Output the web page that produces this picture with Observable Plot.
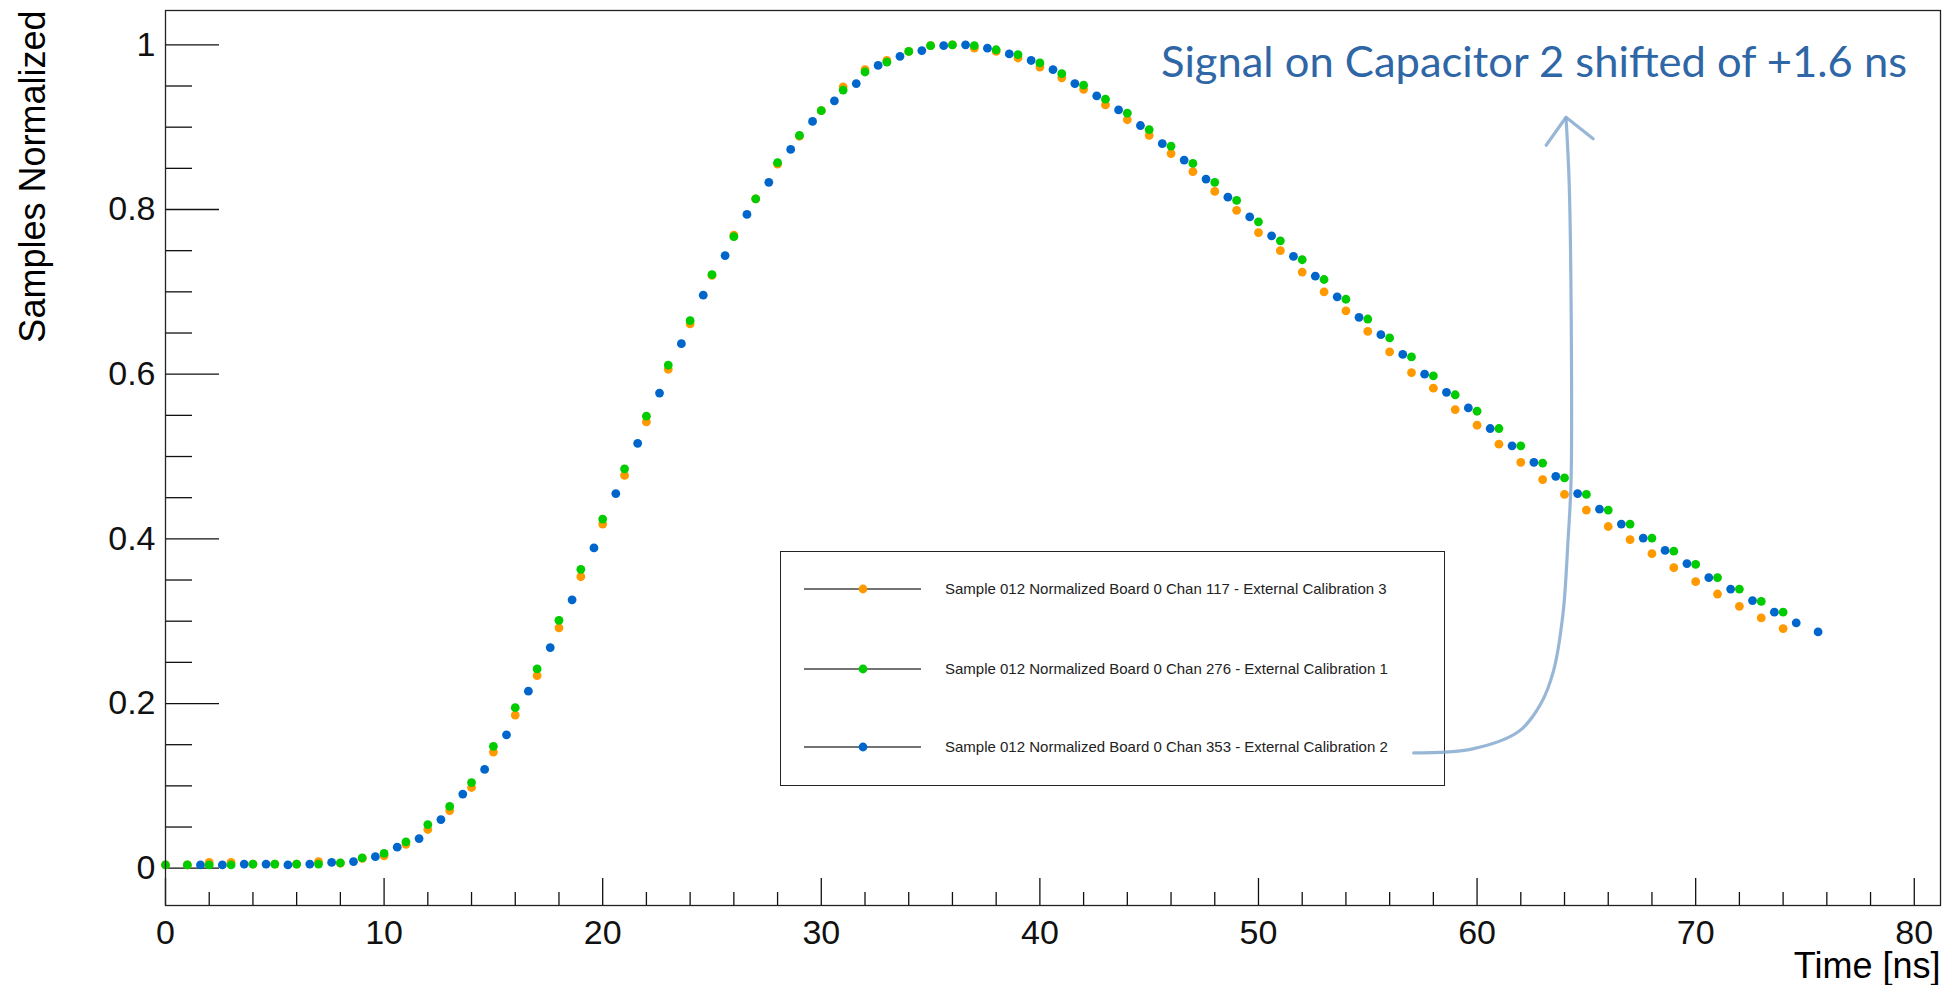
<!DOCTYPE html>
<html>
<head>
<meta charset="utf-8">
<script src="https://cdn.jsdelivr.net/npm/d3@7"></script>
<script src="https://cdn.jsdelivr.net/npm/@observablehq/plot@0.6"></script>
<style>
  html, body { margin: 0; padding: 0; background: #fff; }
  #wrap { position: relative; width: 1956px; height: 985px; }
  #legend { position: absolute; left: 780px; top: 551px; width: 665px; height: 235px; box-sizing: border-box;
            border: 1.5px solid #222; background: #fff; z-index: 0; }
  #chart { position: absolute; left: 0; top: 0; z-index: 1; }
  #chart svg { background: transparent; }
</style>
</head>
<body>
<div id="wrap">
  <div id="legend"></div>
  <div id="chart"></div>
</div>
<script>
// ---------------- data ----------------
const seriesNames = [
  "Sample 012 Normalized Board 0 Chan 117 - External Calibration 3",
  "Sample 012 Normalized Board 0 Chan 276 - External Calibration 1",
  "Sample 012 Normalized Board 0 Chan 353 - External Calibration 2"
];
const seriesColors = ["#FF9900", "#00CC00", "#0066CC"];

// sample times [ns] for channels 117 and 276
const timeNs = [0,1,2,3,4,5,6,7,8,9,10,11,12,13,14,15,16,17,18,19,20,21,22,23,24,25,26,27,28,29,
  30,31,32,33,34,35,36,37,38,39,40,41,42,43,44,45,46,47,48,49,50,51,52,53,54,55,56,57,58,59,
  60,61,62,63,64,65,66,67,68,69,70,71,72,73,74];
// sample times [ns] for channel 353 (shifted of +1.6 ns)
const timeNsShifted = [1.6,2.6,3.6,4.6,5.6,6.6,7.6,8.6,9.6,10.6,11.6,12.6,13.6,14.6,15.6,16.6,17.6,18.6,19.6,20.6,
  21.6,22.6,23.6,24.6,25.6,26.6,27.6,28.6,29.6,30.6,31.6,32.6,33.6,34.6,35.6,36.6,37.6,38.6,39.6,40.6,
  41.6,42.6,43.6,44.6,45.6,46.6,47.6,48.6,49.6,50.6,51.6,52.6,53.6,54.6,55.6,56.6,57.6,58.6,59.6,60.6,
  61.6,62.6,63.6,64.6,65.6,66.6,67.6,68.6,69.6,70.6,71.6,72.6,73.6,74.6,75.6];

const chan117 = [0.004,0.004,0.007,0.007,0.005,0.005,0.005,0.008,0.006,0.012,
  0.015,0.029,0.047,0.070,0.098,0.141,0.186,0.234,0.292,0.354,
  0.418,0.477,0.542,0.606,0.661,0.720,0.769,0.813,0.855,0.889,
  0.920,0.949,0.970,0.981,0.992,0.999,1.000,0.996,0.992,0.984,
  0.973,0.960,0.946,0.927,0.909,0.890,0.868,0.846,0.822,0.799,
  0.772,0.750,0.724,0.700,0.677,0.652,0.627,0.602,0.583,0.557,
  0.538,0.515,0.493,0.472,0.454,0.435,0.415,0.399,0.382,0.365,
  0.348,0.333,0.318,0.304,0.291];

const chan276 = [0.004,0.004,0.004,0.004,0.005,0.005,0.005,0.005,0.0065,0.0126,
  0.018,0.032,0.053,0.075,0.104,0.148,0.195,0.242,0.301,0.363,
  0.424,0.485,0.549,0.611,0.665,0.721,0.767,0.813,0.857,0.890,
  0.920,0.945,0.967,0.979,0.992,0.999,1.000,0.999,0.994,0.988,
  0.978,0.965,0.951,0.934,0.917,0.897,0.877,0.856,0.833,0.811,
  0.785,0.762,0.739,0.715,0.691,0.667,0.644,0.621,0.598,0.575,
  0.555,0.534,0.513,0.492,0.474,0.454,0.435,0.418,0.401,0.385,
  0.369,0.353,0.339,0.324,0.311];

const chan353 = [0.004,0.004,0.005,0.005,0.004,0.005,0.007,0.008,0.014,0.0255,
  0.036,0.059,0.090,0.120,0.162,0.215,0.268,0.326,0.389,0.455,
  0.516,0.577,0.637,0.696,0.744,0.794,0.833,0.873,0.907,0.932,
  0.953,0.975,0.986,0.993,0.999,1.000,0.996,0.989,0.981,0.970,
  0.953,0.938,0.921,0.902,0.880,0.860,0.837,0.815,0.791,0.768,
  0.743,0.719,0.694,0.669,0.648,0.624,0.600,0.578,0.559,0.534,
  0.513,0.493,0.476,0.455,0.436,0.418,0.401,0.386,0.370,0.353,
  0.339,0.325,0.311,0.298,0.287];

// axis ticks
const xMajorTicks = [0,10,20,30,40,50,60,70,80];
const xMinorTicks = [2,4,6,8,12,14,16,18,22,24,26,28,32,34,36,38,42,44,46,48,52,54,56,58,62,64,66,68,72,74,76,78];
const yMajorTicks = [0,0.2,0.4,0.6,0.8,1];
const yMinorTicks = [0.05,0.1,0.15,0.25,0.3,0.35,0.45,0.5,0.55,0.65,0.7,0.75,0.85,0.9,0.95];

// texts
const xTitle = "Time [ns]";
const yTitle = "Samples Normalized";
const noteText = "Signal on Capacitor 2 shifted of +1.6 ns";

// hand-drawn arrow annotation (data coordinates)
const arrowX = [57.1, 59.8, 61.9, 62.9, 63.5, 63.93, 64.16, 64.3, 64.3, 64.21, 64.07];
const arrowY = [0.140, 0.145, 0.166, 0.199, 0.240, 0.309, 0.398, 0.471, 0.690, 0.835, 0.911];
const arrowHeadX = [63.16, 64.07, 65.31];
const arrowHeadY = [0.878, 0.912, 0.886];

// ---------------- build ----------------
const pts = (xs, ys) => xs.map((x, i) => ({x, y: ys[i]}));
const s117 = pts(timeNs, chan117);
const s276 = pts(timeNs, chan276);
const s353 = pts(timeNsShifted, chan353);
const arrowPts = pts(arrowX, arrowY);
const arrowHeadPts = pts(arrowHeadX, arrowHeadY);

const fmtY = d => d === 0 ? "0" : d === 1 ? "1" : String(d);
const tickFont = 34;

const chart = Plot.plot({
  width: 1956, height: 985,
  marginLeft: 165, marginRight: 16, marginTop: 10, marginBottom: 80,
  style: {fontFamily: "'Liberation Sans', Arial, Helvetica, sans-serif", color: "#111", background: "transparent"},
  x: {domain: [0, 81.2]},
  y: {domain: [-0.0453, 1.0417]},
  marks: [
    Plot.axisX({ticks: xMajorTicks, tickSize: 0, tickPadding: 14, fontSize: tickFont, tickFormat: d => String(d), label: null}),
    Plot.axisX({ticks: xMajorTicks, tickSize: -27, tickFormat: () => "", label: null, strokeWidth: 1.3}),
    Plot.axisX({ticks: xMinorTicks, tickSize: -13, tickFormat: () => "", label: null, strokeWidth: 1.3}),
    Plot.axisY({ticks: yMajorTicks, tickSize: 0, tickPadding: 10, fontSize: tickFont, tickFormat: fmtY, label: null}),
    Plot.axisY({ticks: yMajorTicks, tickSize: -54, tickFormat: () => "", label: null, strokeWidth: 1.3}),
    Plot.axisY({ticks: yMinorTicks, tickSize: -27, tickFormat: () => "", label: null, strokeWidth: 1.3}),
    Plot.dot(s117, {x: "x", y: "y", r: 4.4, fill: seriesColors[0]}),
    Plot.dot(s276, {x: "x", y: "y", r: 4.4, fill: seriesColors[1]}),
    Plot.dot(s353, {x: "x", y: "y", r: 4.4, fill: seriesColors[2]}),
    Plot.line(arrowPts, {x: "x", y: "y", curve: "catmull-rom", stroke: "#86AAD0", strokeWidth: 3.2, strokeOpacity: 0.85}),
    Plot.line(arrowHeadPts, {x: "x", y: "y", stroke: "#86AAD0", strokeWidth: 3.2, strokeOpacity: 0.85}),
    Plot.text([yTitle], {frameAnchor: "top-left", rotate: -90, textAnchor: "end", lineAnchor: "middle", dx: -132, fontSize: 36, fill: "#000"}),
    Plot.text([xTitle], {frameAnchor: "bottom-right", textAnchor: "end", lineAnchor: "middle", dy: 61, fontSize: 36, fill: "#000"}),
    Plot.text([noteText], {frameAnchor: "top-right", textAnchor: "end", lineAnchor: "top", dx: -33.5, dy: 36, fontSize: 43,
      fontFamily: "Lato, 'Open Sans', sans-serif", fontWeight: 400, fill: "#2F66A6", className: "note"}),
    Plot.frame({stroke: "#222", strokeWidth: 1.3})
  ]
});
d3.select(chart).selectAll(".note text").attr("textLength", 746).attr("lengthAdjust", "spacingAndGlyphs");
document.getElementById("chart").appendChild(chart);

// ---------------- legend ----------------
const lg = d3.select("#legend").append("svg").attr("width", 662).attr("height", 232)
  .style("font-family", "'Liberation Sans', Arial, Helvetica, sans-serif");
const rowY = [37, 117, 195];
seriesNames.forEach((name, i) => {
  const g = lg.append("g").attr("transform", `translate(0,${rowY[i]})`);
  g.append("line").attr("x1", 23).attr("x2", 140).attr("y1", 0).attr("y2", 0).attr("stroke", "#444").attr("stroke-width", 1.6);
  g.append("circle").attr("cx", 82).attr("cy", 0).attr("r", 4.4).attr("fill", seriesColors[i]);
  g.append("text").attr("x", 164).attr("y", 0).attr("dy", "0.35em").attr("font-size", 15).attr("fill", "#222").text(name);
});
</script>
</body>
</html>
